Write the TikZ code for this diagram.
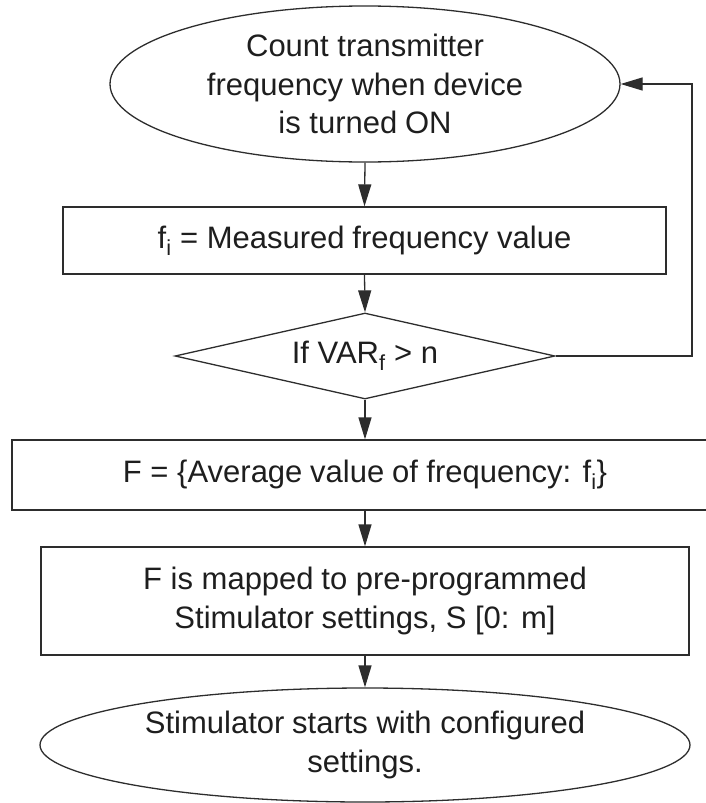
\documentclass[tikz,border=0pt]{standalone}
\usepackage{fontspec}
\setmainfont{Liberation Sans}
\usetikzlibrary{shapes.geometric,arrows.meta}
\definecolor{linec}{RGB}{45,45,45}
\definecolor{textc}{RGB}{30,30,30}
\newcommand\dsp{\hspace{0.25em}}
\tikzset{
  base/.style={draw=linec, line width=1.3pt, inner sep=0pt, align=center,
    text=textc, font=\fontsize{31}{38.5}\selectfont},
  terminal/.style={base, ellipse},
  procbox/.style={base, rectangle},
  decision/.style={base, diamond, aspect=4.4},
  flow/.style={draw=linec, line width=1.3pt, -{Triangle[length=22pt,width=13pt]}}
}
\begin{document}
\begin{tikzpicture}[x=1pt,y=-1pt]
\useasboundingbox (0,0) rectangle (705,803);
\node[terminal, minimum width=510pt, minimum height=156pt] (start) at (365,84)
  {Count transmitter\\frequency when\dsp device\\is turned\dsp ON};
\node[procbox, minimum width=603pt, minimum height=67pt] (meas) at (364.5,240.5)
  {f\textsubscript{i} = Measured\dsp frequency value};
\node[decision, minimum width=380pt, minimum height=86pt] (dec) at (365,356)
  {If VAR\textsubscript{f} > n};
\node[procbox, minimum width=706pt, minimum height=70pt] (avg) at (365,475)
  {F = \{Average\dsp value\dsp of frequency: f\textsubscript{i}\}};
\node[procbox, minimum width=648pt, minimum height=108pt] (map) at (365,601)
  {F is mapped\dsp to pre-programmed\\Stimulator\dsp settings, S [0: m]};
\node[terminal, minimum width=650pt, minimum height=114pt] (stop) at (365,745)
  {Stimulator\dsp starts with configured\\settings.};
\coordinate (loop) at (692,356);
\draw[flow] (start.south) -- (meas.north);
\draw[flow] (meas.south) -- (dec.north);
\draw[flow] (dec.east) -- (loop) |- (start.east);
\draw[flow] (dec.south) -- (avg.north);
\draw[flow] (avg.south) -- (map.north);
\draw[flow] (map.south) -- (stop.north);
\end{tikzpicture}
\end{document}
